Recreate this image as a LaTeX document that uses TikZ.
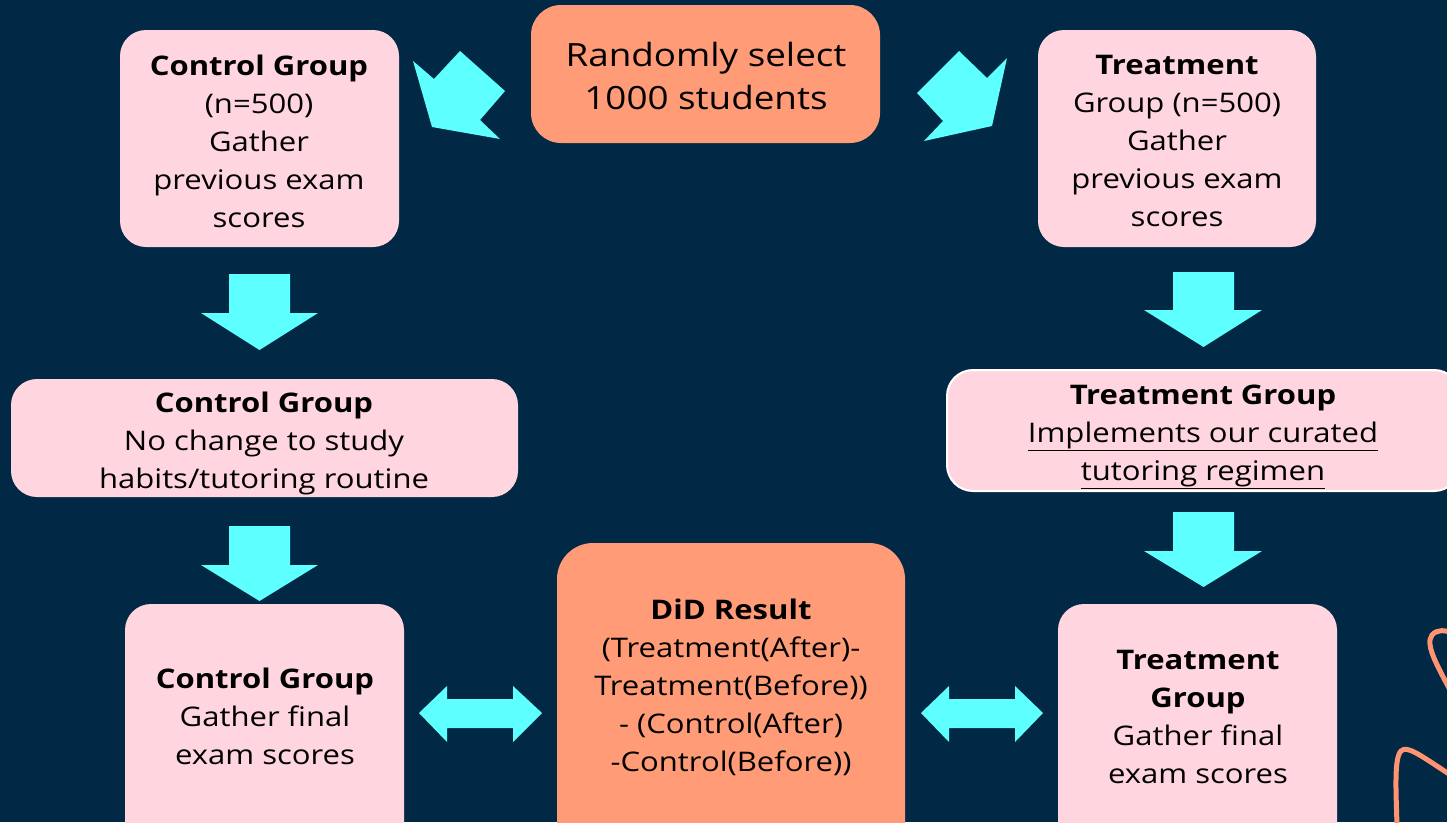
\documentclass[tikz,border=0pt]{standalone}
\usepackage{fontspec}
\setmainfont{Open Sans}[FakeStretch=1.15]
\definecolor{bgnavy}{HTML}{012945}
\definecolor{cyanarrow}{HTML}{5DFFFF}
\definecolor{pinkbox}{HTML}{FFD6E0}
\definecolor{salmonbox}{HTML}{FF9C77}
\definecolor{orangeline}{HTML}{FF9470}
\newcommand{\ulline}[1]{\underline{#1}}
\begin{document}
\begin{tikzpicture}[x=1pt,y=-1pt,
  pbox/.style={fill=pinkbox, rounded corners=26pt, inner sep=0pt, draw=none},
  sbox/.style={fill=salmonbox, rounded corners=30pt, inner sep=0pt, draw=none},
  txt/.style={align=center, inner sep=0pt, text=black, font=\fontsize{27}{38}\selectfont},
  bigtxt/.style={align=center, inner sep=0pt, text=black, font=\fontsize{32}{43}\selectfont},
  blockarrow/.style={fill=cyanarrow, draw=none},
  deco/.style={draw=orangeline, line width=5pt, line cap=round}
]
\useasboundingbox (0,0) rectangle (1447,822);
\clip (0,0) rectangle (1447,822);
\fill[bgnavy] (0,0) rectangle (1447,822);

% boxes
\node[sbox, minimum width=349pt, minimum height=138pt] (rand) at (705.5,74) {};
\node[pbox, minimum width=279pt, minimum height=217pt] (cg1) at (259.5,138.5) {};
\node[pbox, minimum width=278pt, minimum height=217pt] (tg1) at (1177,138.5) {};
\node[pbox, minimum width=507pt, minimum height=118pt] (cg2) at (264.5,438) {};
\node[pbox, draw=white, line width=2pt, minimum width=513pt, minimum height=121pt] (tg2) at (1203.5,430.5) {};
\node[pbox, minimum width=279pt, minimum height=246pt] (cg3) at (264.5,727) {};
\node[sbox, rounded corners=36pt, minimum width=348pt, minimum height=317pt] (did) at (731,701.5) {};
\node[pbox, minimum width=279pt, minimum height=246pt] (tg3) at (1197.5,727) {};

% texts
\node[bigtxt] (randt) at (706,76) {Randomly select\\1000 students};
\node[txt] (cg1t) at (259,141) {\textbf{Control Group}\\(n=500)\\Gather\\previous exam\\scores};
\node[txt] (tg1t) at (1177,141) {\textbf{Treatment}\\Group (n=500)\\Gather\\previous exam\\scores};
\node[txt] (cg2t) at (264,443) {\textbf{Control Group}\\No change to study\\habits/tutoring routine};
\node[txt] (tg2t) at (1203,437) {\textbf{Treatment Group}\\\ulline{Implements our curated}\\\ulline{tutoring regimen}};
\node[txt] (cg3t) at (265,716) {\textbf{Control Group}\\Gather final\\exam scores};
\node[txt] (didt) at (731,687) {\textbf{DiD Result}\\(Treatment(After)-\\Treatment(Before))\\- (Control(After)\\-Control(Before))};
\node[txt] (tg3t) at (1198,717) {\textbf{Treatment}\\\textbf{Group}\\Gather final\\exam scores};

% diagonal block arrows from the top box
\fill[blockarrow] (413,61) -- (434,79) -- (460,51) -- (505,91) -- (480,120) -- (500,139) -- (432,127) -- cycle;
\fill[blockarrow] (959,51) -- (987,78) -- (1007,58) -- (992,126) -- (924,141) -- (943,121) -- (917,93) -- cycle;

% down block arrows
\fill[blockarrow] (229,274) -- (290,274) -- (290,313) -- (318,313) -- (259.5,350) -- (201,313) -- (229,313) -- cycle;
\fill[blockarrow] (229,526) -- (290,526) -- (290,565) -- (318,565) -- (259.5,601) -- (201,565) -- (229,565) -- cycle;
\fill[blockarrow] (1173,272) -- (1234,272) -- (1234,310) -- (1262,310) -- (1203.5,347) -- (1144,310) -- (1173,310) -- cycle;
\fill[blockarrow] (1173,512) -- (1234,512) -- (1234,551) -- (1262,551) -- (1203.5,587) -- (1144,551) -- (1173,551) -- cycle;

% double block arrows
\fill[blockarrow] (419,713) -- (447,686) -- (447,699) -- (513,699) -- (513,686) -- (542,713) -- (513,742) -- (513,728) -- (447,728) -- (447,742) -- cycle;
\fill[blockarrow] (921,713) -- (949,686) -- (949,699) -- (1015,699) -- (1015,686) -- (1043,713) -- (1015,742) -- (1015,728) -- (949,728) -- (949,742) -- cycle;

% decorative curves
\draw[deco] (1452,694) .. controls (1440,670) and (1424,645) .. (1432,635) .. controls (1437,629) and (1446,630) .. (1452,633);
\draw[deco] (1397,826) .. controls (1396,790) and (1394,758) .. (1401,751) .. controls (1407,745) and (1420,755) .. (1452,776);
\end{tikzpicture}
\end{document}
